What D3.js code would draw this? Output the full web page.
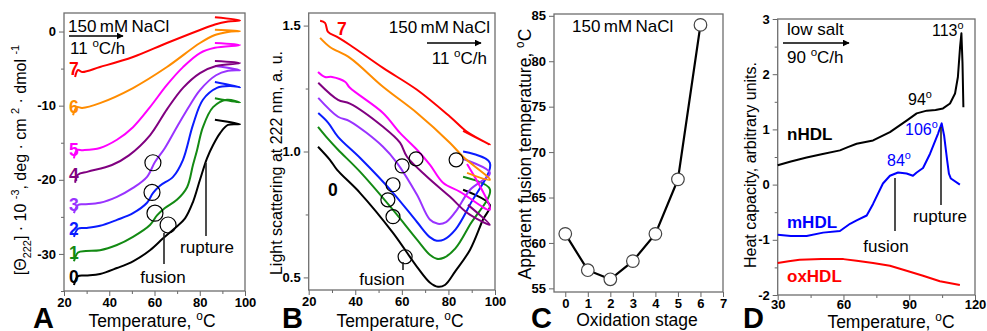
<!DOCTYPE html>
<html>
<head>
<meta charset="utf-8">
<script src="https://cdn.jsdelivr.net/npm/d3@7"></script>
<style>
  body { margin: 0; background: #fff; }
  svg text { font-family: "Liberation Sans", Arial, sans-serif; }
  .tick text { font-weight: bold; font-size: 13px; fill: #000; }
  .tick line { stroke: #666; }
</style>
</head>
<body>
<svg id="chart" width="987" height="331"></svg>
<script>
// --- colours for oxidation stages 0..7 ---
const stageColors = ['#000000', '#138a13', '#0a1cff', '#9933ff', '#800080', '#ff00ff', '#ff8c00', '#ff0000'];

// --- panel A: CD at 222 nm, [T (C), value], heating then short cooling arm ---
const cd0 = [[24.4,-34.2],[26.2,-33],[29.7,-32.9],[35.9,-32.7],[43.4,-31.9],[50.5,-31],[58,-29.5],[63.8,-27.9],[69.1,-26.5],[73.5,-25.2],[77,-23],[80.1,-20],[83.2,-17.1],[85.9,-15.3],[89,-13.7],[92.5,-12.6],[97.8,-12.5],[86.7,-11.9]];
const cd1 = [[24.4,-31],[26.2,-29.8],[29.7,-29.6],[35.9,-29.5],[43.4,-28.8],[50.5,-27.7],[58,-26.1],[61.1,-24.8],[64.6,-23.8],[69.9,-22.7],[74.4,-21],[77,-18],[78.8,-16],[81.4,-12.9],[85.9,-10.2],[92,-9.2],[97.8,-9.6],[86.7,-9.0]];
const cd2 = [[24.4,-27.7],[26.2,-26.6],[29.7,-26.5],[35.9,-26.2],[43.4,-25.4],[50.5,-24.5],[56.7,-23.1],[59.3,-21.8],[62.4,-20.8],[68.2,-19.6],[72.6,-17.3],[77,-12.6],[81.4,-9.2],[87.6,-7.6],[93.4,-7.35],[97.8,-7.5],[86.7,-6.8]];
const cd3 = [[24.4,-24.5],[26.2,-23.4],[28.8,-23.3],[35.9,-23.1],[43.4,-22.3],[50.5,-21.1],[56.7,-19.6],[60.2,-17.6],[64.6,-15.7],[70.4,-12.6],[75.7,-9.9],[80.1,-7.9],[87.2,-5.9],[92.5,-5.3],[97.8,-5.2],[86.7,-4.65]];
const cd4 = [[24.9,-20.4],[26.2,-19.3],[30.6,-18.9],[41.2,-18],[48.7,-16.7],[58,-14],[65.5,-10.5],[72.6,-7.6],[80.1,-5.6],[87.2,-4.65],[97.8,-4.25],[86.7,-3.98]];
const cd5 = [[24.4,-17.1],[25.7,-16],[28.4,-16],[35.9,-15.7],[43.4,-14.6],[50.5,-12.9],[58,-10.2],[65.5,-7.2],[72.6,-4.8],[80.1,-2.9],[86.7,-2.2],[97.8,-1.82],[86.7,-1.55]];
const cd6 = [[24,-11.3],[25.7,-10.2],[28,-10.3],[35.9,-9.65],[50.5,-7.62],[65.5,-4.79],[80.1,-1.55],[86.7,-0.47],[92.5,-0.06],[97.8,0.07],[86.7,0.25]];
const cd7 = [[24.9,-6.14],[26.2,-5.19],[28,-5.46],[35.9,-4.79],[50.5,-3.44],[65.5,-1.55],[80.1,0.21],[86.7,0.95],[92.5,1.35],[97.8,1.5],[86.7,1.92]];
const cdFusion = [[59.3,-17.7],[58.9,-21.7],[60.2,-24.5],[66,-26.1]];

// --- panel B: light scattering at 222 nm ---
const ls0 = [[24,1.019],[29.1,0.967],[32.2,0.927],[42,0.836],[56.2,0.677],[66.5,0.542],[72,0.48],[75.5,0.463],[78.5,0.47],[83,0.525],[89.3,0.61],[94.8,0.729],[97.8,0.788],[86.3,0.848]];
const ls1 = [[24,1.098],[28.3,1.05],[32.6,1.007],[42,0.92],[56.2,0.768],[66.5,0.65],[72,0.59],[75,0.574],[78,0.578],[83,0.615],[89.3,0.71],[97.8,0.85],[86.3,0.9]];
const ls2 = [[24.1,1.153],[28.3,1.115],[32.6,1.058],[42,0.975],[56.2,0.836],[66.5,0.72],[72,0.66],[75,0.646],[78,0.65],[83,0.69],[89.3,0.79],[97.8,0.955],[86.3,1.0]];
const ls3 = [[24.1,1.213],[32.6,1.138],[37.7,1.12],[51.9,1.019],[57.9,0.955],[66.5,0.828],[72,0.73],[75.5,0.713],[79,0.72],[83,0.76],[89.3,0.848],[97.8,0.915],[86.3,0.97]];
const ls4 = [[24.1,1.273],[32.6,1.205],[37.7,1.19],[51.9,1.098],[59.2,1.035],[62.2,0.979],[70.8,0.9],[80.7,0.82],[88,0.757],[97.8,0.709],[88.4,0.788]];
const ls5 = [[24,1.316],[27,1.296],[30,1.296],[35.6,1.277],[37.7,1.253],[51.9,1.153],[59.2,1.074],[66.5,1.007],[72.1,0.947],[77.7,0.876],[85,0.84],[97.8,0.769],[88,0.95]];
const ls6 = [[24.9,1.451],[29.1,1.415],[37.7,1.372],[51.9,1.257],[66.5,1.153],[80.7,1.034],[86.3,0.979],[97.8,0.888],[88,0.915]];
const ls7 = [[24.9,1.519],[27,1.511],[28.3,1.475],[32.2,1.455],[37.7,1.423],[51.9,1.332],[66.5,1.245],[80.7,1.138],[88,1.078],[97.8,1.027],[86.3,1.082]];
const lsFusion = [[60.1,0.943],[66.1,0.971],[83.3,0.967],[56.2,0.868],[54,0.808],[56.2,0.741],[61.4,0.582]];

// --- panel C: apparent fusion temperature vs oxidation stage ---
const oxStages = [0, 1, 2, 3, 4, 5, 6];
const fusionTemps = [61, 57, 56, 58, 61, 67, 84];

// --- panel D: DSC heat capacity ---
const nHDL = [[30,0.35],[36,0.42],[43.2,0.49],[50,0.55],[58.4,0.62],[62,0.68],[66,0.74],[73.5,0.8],[81.2,0.95],[88.8,1.16],[93.4,1.29],[98,1.34],[102,1.35],[105.4,1.38],[108.6,1.47],[110.9,1.65],[112.2,1.95],[113.2,2.5],[113.8,2.74],[114.3,2.2],[114.7,1.4]];
const mHDL = [[30,-0.91],[36,-0.93],[43.2,-0.93],[50.7,-0.87],[58.4,-0.84],[63,-0.71],[66,-0.65],[70.6,-0.56],[73.5,-0.35],[78,0.02],[81.2,0.16],[84.9,0.22],[88.8,0.2],[91.7,0.16],[93.4,0.22],[96.3,0.3],[99.5,0.56],[103.2,0.93],[104.8,1.11],[105.9,0.89],[107.3,0.44],[108.1,0.2],[109,0.11],[113.1,0.0]];
const oxHDL = [[30,-1.42],[35,-1.39],[40,-1.36],[50,-1.35],[60,-1.35],[66,-1.38],[73.5,-1.42],[81.2,-1.47],[88.8,-1.56],[96.3,-1.65],[104,-1.75],[113.1,-1.82]];

// --- tick values ---
const tempTicks = [20, 40, 60, 80, 100];
const tempMinor = [30, 50, 70, 90];
const cdTicks = [-30, -20, -10, 0];
const cdMinor = [-35, -25, -15, -5];
const lsTicks = [0.5, 1.0, 1.5];
const lsMinor = [0.75, 1.25];
const stageTicks = [0, 1, 2, 3, 4, 5, 6, 7];
const fusionTicks = [55, 60, 65, 70, 75, 80, 85];
const dscTempTicks = [30, 60, 90, 120];
const dscTempMinor = [45, 75, 105];
const dscTicks = [-2, -1, 0, 1, 2, 3];
const dscMinor = [-1.5, -0.5, 0.5, 1.5, 2.5];

const svg = d3.select('#chart');

svg.append('defs').append('marker')
  .attr('id', 'arrow')
  .attr('viewBox', '0 0 10 10')
  .attr('refX', 9).attr('refY', 5)
  .attr('markerWidth', 7).attr('markerHeight', 7)
  .attr('markerUnits', 'userSpaceOnUse')
  .attr('orient', 'auto')
  .append('path').attr('d', 'M0,0 L10,5 L0,10 z').attr('fill', '#000');

// text with super/subscript pieces: strings or {sup:..} / {sub:..}
function richText(g, parts, size) {
  const t = g.append('text').attr('font-size', size);
  let shift = 0;
  parts.forEach(p => {
    if (typeof p === 'string') {
      t.append('tspan').attr('dy', -shift).text(p);
      shift = 0;
    } else {
      const s = p.sup !== undefined ? -size * 0.42 : size * 0.3;
      t.append('tspan').attr('dy', s - shift).attr('font-size', size * 0.68).text(p.sup !== undefined ? p.sup : p.sub);
      shift = s;
    }
  });
  return t;
}

function panel(opts) {
  const g = svg.append('g');
  const x = d3.scaleLinear().domain(opts.xDomain).range([opts.left, opts.right]);
  const y = d3.scaleLinear().domain(opts.yDomain).range([opts.bottom, opts.top]);

  const xa = g.append('g').attr('transform', `translate(0,${opts.bottom})`)
    .call(d3.axisBottom(x).tickValues(opts.xTicks).tickSize(5).tickPadding(opts.xPad !== undefined ? opts.xPad : 2).tickFormat(d3.format('d')));
  xa.select('.domain').remove();
  if (opts.xMinor) {
    const xm = g.append('g').attr('transform', `translate(0,${opts.bottom})`)
      .call(d3.axisBottom(x).tickValues(opts.xMinor).tickSize(3).tickFormat(''));
    xm.select('.domain').remove();
  }
  const ya = g.append('g').attr('transform', `translate(${opts.left},0)`)
    .call(d3.axisLeft(y).tickValues(opts.yTicks).tickSize(5).tickPadding(3).tickFormat(opts.yFormat || d3.format('d')));
  ya.select('.domain').remove();
  ya.selectAll('.tick text').text(function() { return this.textContent.replace('\u2212', '-'); });
  if (opts.yMinor) {
    const ym = g.append('g').attr('transform', `translate(${opts.left},0)`)
      .call(d3.axisLeft(y).tickValues(opts.yMinor).tickSize(3).tickFormat(''));
    ym.select('.domain').remove();
  }
  g.append('rect')
    .attr('x', opts.left).attr('y', opts.top)
    .attr('width', opts.right - opts.left).attr('height', opts.bottom - opts.top)
    .attr('fill', 'none').attr('stroke', '#6e6e6e').attr('stroke-width', 1.3);

  const plot = g.append('g');
  return { g, plot, x, y };
}

function arrow(g, x1, x2, yy) {
  g.append('line').attr('x1', x1).attr('x2', x2).attr('y1', yy).attr('y2', yy)
    .attr('stroke', '#000').attr('stroke-width', 1.4).attr('marker-end', 'url(#arrow)');
}

function tempTitle(g, cx, yy) {
  richText(g, ['Temperature, ', { sup: 'o' }, 'C'], 17.5).attr('x', cx).attr('y', yy || 327).attr('text-anchor', 'middle');
}

function bigLetter(g, s, xx) {
  g.append('text').attr('x', xx).attr('y', 328).attr('font-size', 29).attr('font-weight', 'bold').text(s);
}

function leader(g, x1, y1, y2) {
  g.append('line').attr('x1', x1).attr('x2', x1).attr('y1', y1).attr('y2', y2)
    .attr('stroke', '#222').attr('stroke-width', 1.6);
}

// ================= Panel A =================
{
  const p = panel({ left: 64, right: 245, top: 13, bottom: 291, xDomain: [20, 100], yDomain: [-35, 2.5],
    xTicks: tempTicks, xMinor: tempMinor, yTicks: cdTicks, yMinor: cdMinor });
  const line = d3.line().x(d => p.x(d[0])).y(d => p.y(d[1])).curve(d3.curveCatmullRom.alpha(0.5));
  [cd0, cd1, cd2, cd3, cd4, cd5, cd6, cd7].forEach((s, i) => {
    p.plot.append('path').attr('d', line(s)).attr('fill', 'none')
      .attr('stroke', stageColors[i]).attr('stroke-width', 2);
    p.plot.append('text').attr('x', 69).attr('y', p.y(s[0][1]) - 2)
      .attr('font-size', 17.5).attr('font-weight', 'bold').attr('fill', stageColors[i]).text(i);
  });
  p.plot.selectAll('circle.fus').data(cdFusion).enter().append('circle')
    .attr('cx', d => p.x(d[0])).attr('cy', d => p.y(d[1])).attr('r', 8)
    .attr('fill', 'none').attr('stroke', '#000').attr('stroke-width', 1.2);
  leader(p.g, 164, 233, 264);
  p.g.append('text').attr('x', 163).attr('y', 283).attr('font-size', 17).attr('text-anchor', 'middle').text('fusion');
  leader(p.g, 206, 163, 236);
  p.g.append('text').attr('x', 207).attr('y', 253).attr('font-size', 17).attr('text-anchor', 'middle').text('rupture');
  p.g.append('text').attr('x', 68).attr('y', 32).attr('font-size', 17).text('150\u2009mM\u2009NaCl');
  arrow(p.g, 69, 123, 36);
  richText(p.g, ['11 ', { sup: 'o' }, 'C/h'], 17).attr('x', 70).attr('y', 54);
  richText(p.g, ['[\u0398', { sub: '222' }, '] \u00b7 10 ', { sup: '-3' }, ', deg \u00b7 cm ', { sup: '2' }, ' \u00b7 dmol ', { sup: '-1' }], 16)
    .attr('text-anchor', 'middle').attr('transform', 'translate(26,160) rotate(-90)');
  tempTitle(p.g, 152);
  bigLetter(p.g, 'A', 33);
}

// ================= Panel B =================
{
  const p = panel({ left: 308.7, right: 495, top: 13, bottom: 290, xDomain: [20, 100], yDomain: [0.45, 1.55],
    xTicks: tempTicks, xMinor: tempMinor, yTicks: lsTicks, yMinor: lsMinor, yFormat: d3.format('.1f') });
  const line = d3.line().x(d => p.x(d[0])).y(d => p.y(d[1])).curve(d3.curveCatmullRom.alpha(0.5));
  [ls0, ls1, ls2, ls3, ls4, ls5, ls6, ls7].forEach((s, i) => {
    p.plot.append('path').attr('d', line(s)).attr('fill', 'none')
      .attr('stroke', stageColors[i]).attr('stroke-width', 2);
  });
  p.plot.selectAll('circle.fus').data(lsFusion).enter().append('circle')
    .attr('cx', d => p.x(d[0])).attr('cy', d => p.y(d[1])).attr('r', 7)
    .attr('fill', 'none').attr('stroke', '#000').attr('stroke-width', 1.2);
  p.g.append('text').attr('x', 337).attr('y', 35).attr('font-size', 17.5).attr('font-weight', 'bold').attr('fill', stageColors[7]).text('7');
  p.g.append('text').attr('x', 328).attr('y', 196).attr('font-size', 17.5).attr('font-weight', 'bold').text('0');
  leader(p.g, 403, 262, 270);
  p.g.append('text').attr('x', 382).attr('y', 285).attr('font-size', 17).attr('text-anchor', 'middle').text('fusion');
  p.g.append('text').attr('x', 490).attr('y', 33).attr('font-size', 17).attr('text-anchor', 'end').text('150\u2009mM\u2009NaCl');
  arrow(p.g, 427, 481, 43);
  richText(p.g, ['11 ', { sup: 'o' }, 'C/h'], 17).attr('x', 487).attr('y', 64).attr('text-anchor', 'end');
  p.g.append('text').attr('font-size', 16).attr('text-anchor', 'middle')
    .attr('transform', 'translate(282,163) rotate(-90)').text('Light scattering at 222 nm, a. u.');
  tempTitle(p.g, 400);
  bigLetter(p.g, 'B', 282);
}

// ================= Panel C =================
{
  const p = panel({ left: 554, right: 723, top: 14, bottom: 292, xDomain: [-0.5, 7], yDomain: [54.6, 85.2],
    xTicks: stageTicks, yTicks: fusionTicks });
  const pts = oxStages.map((s, i) => [s, fusionTemps[i]]);
  const line = d3.line().x(d => p.x(d[0])).y(d => p.y(d[1]));
  p.plot.append('path').attr('d', line(pts)).attr('fill', 'none').attr('stroke', '#000').attr('stroke-width', 2.2);
  p.plot.selectAll('circle').data(pts).enter().append('circle')
    .attr('cx', d => p.x(d[0])).attr('cy', d => p.y(d[1])).attr('r', 6.3)
    .attr('fill', '#fff').attr('stroke', '#444').attr('stroke-width', 1.2);
  p.g.append('text').attr('x', 572).attr('y', 32).attr('font-size', 17).text('150\u2009mM\u2009NaCl');
  richText(p.g, ['Apparent fusion temperature, ', { sup: 'o' }, 'C'], 17.5)
    .attr('text-anchor', 'middle').attr('transform', 'translate(531,154) rotate(-90)');
  p.g.append('text').attr('x', 637).attr('y', 326).attr('font-size', 17.5).attr('text-anchor', 'middle').text('Oxidation stage');
  bigLetter(p.g, 'C', 531);
}

// ================= Panel D =================
{
  const p = panel({ left: 777.7, right: 975, top: 19, bottom: 295, xDomain: [30, 120], yDomain: [-2, 3],
    xTicks: dscTempTicks, xMinor: dscTempMinor, yTicks: dscTicks, yMinor: dscMinor, xPad: 0 });
  const line = d3.line().x(d => p.x(d[0])).y(d => p.y(d[1]));
  [[nHDL, '#000'], [mHDL, '#0000ff'], [oxHDL, '#ff0000']].forEach(([s, c]) => {
    p.plot.append('path').attr('d', line(s)).attr('fill', 'none').attr('stroke', c)
      .attr('stroke-width', 2).attr('stroke-linejoin', 'round');
  });
  p.g.append('text').attr('x', 787).attr('y', 35).attr('font-size', 17).text('low salt');
  arrow(p.g, 783, 849, 43);
  richText(p.g, ['90 ', { sup: 'o' }, 'C/h'], 17).attr('x', 787).attr('y', 63);
  richText(p.g, ['113', { sup: 'o' }], 16).attr('x', 932).attr('y', 36);
  richText(p.g, ['94', { sup: 'o' }], 16).attr('x', 908).attr('y', 105);
  richText(p.g, ['106', { sup: 'o' }], 16).attr('x', 905).attr('y', 135).attr('fill', '#0000ff');
  richText(p.g, ['84', { sup: 'o' }], 16).attr('x', 887).attr('y', 166).attr('fill', '#0000ff');
  p.g.append('text').attr('x', 787).attr('y', 140).attr('font-size', 17).attr('font-weight', 'bold').text('nHDL');
  p.g.append('text').attr('x', 787).attr('y', 228).attr('font-size', 17).attr('font-weight', 'bold').attr('fill', '#0000ff').text('mHDL');
  p.g.append('text').attr('x', 787).attr('y', 282).attr('font-size', 17).attr('font-weight', 'bold').attr('fill', '#ff0000').text('oxHDL');
  leader(p.g, 895, 178, 231);
  p.g.append('text').attr('x', 886).attr('y', 252).attr('font-size', 17).attr('text-anchor', 'middle').text('fusion');
  leader(p.g, 941, 127, 205);
  p.g.append('text').attr('x', 940).attr('y', 222).attr('font-size', 17).attr('text-anchor', 'middle').text('rupture');
  p.g.append('text').attr('font-size', 16).attr('text-anchor', 'middle')
    .attr('transform', 'translate(756,165) rotate(-90)').text('Heat capacity, arbitrary units.');
  tempTitle(p.g, 891, 328);
  bigLetter(p.g, 'D', 743);
}
</script>
</body>
</html>
